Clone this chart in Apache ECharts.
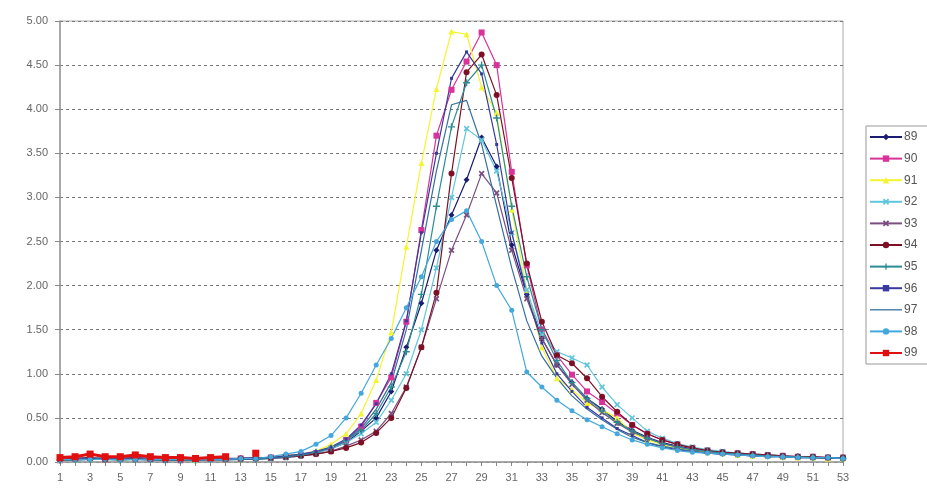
<!DOCTYPE html>
<html>
<head>
<meta charset="utf-8">
<script src="https://cdn.jsdelivr.net/npm/echarts@6/dist/echarts.min.js"></script>
<style>html,body{margin:0;padding:0;background:#fff;overflow:hidden;}#c{width:927px;height:494px;}</style>
</head>
<body>
<div id="c"></div>
<script>
const weeks = Array.from({length: 53}, (_, i) => String(i + 1));
const seriesNames = ['89','90','91','92','93','94','95','96','97','98','99'];

const s89 = [0.03,0.04,0.05,0.04,0.04,0.05,0.04,0.03,0.03,0.03,0.04,0.04,0.04,0.05,
  0.05,0.07,0.09,0.11,0.15,0.22,0.35,0.5,0.8,1.3,1.8,2.4,2.8,3.2,3.68,3.35,2.46,1.9,1.4,1.1,0.9,0.72,0.6,0.46,0.36,0.28,0.22,0.18,0.15,0.12,0.1,0.09,0.08,0.07,0.06,0.06,0.05,0.05,0.04];
const s90 = [0.02,0.03,0.04,0.03,0.03,0.04,0.03,0.03,0.02,0.03,0.03,0.03,0.04,0.04,
  0.05,0.06,0.08,0.1,0.15,0.25,0.4,0.67,0.96,1.59,2.63,3.7,4.22,4.54,4.87,4.5,3.29,2.23,1.5,1.21,0.99,0.8,0.68,0.55,0.42,0.32,0.25,0.2,0.16,0.13,0.11,0.1,0.09,0.08,0.07,0.06,0.06,0.05,0.05];
const s91 = [0.03,0.03,0.04,0.04,0.03,0.04,0.03,0.03,0.03,0.02,0.03,0.03,0.03,0.04,
  0.05,0.07,0.09,0.12,0.2,0.32,0.55,0.93,1.47,2.44,3.39,4.23,4.88,4.85,4.25,3.96,2.86,1.95,1.3,0.95,0.82,0.67,0.59,0.5,0.33,0.25,0.2,0.16,0.13,0.11,0.1,0.08,0.07,0.07,0.06,0.05,0.05,0.04,0.04];
const s92 = [0.02,0.02,0.03,0.03,0.02,0.03,0.02,0.02,0.02,0.02,0.02,0.03,0.03,0.03,
  0.04,0.05,0.07,0.1,0.15,0.22,0.32,0.45,0.7,1.0,1.5,2.2,3.0,3.78,3.65,3.3,2.6,1.95,1.45,1.25,1.18,1.1,0.85,0.65,0.5,0.35,0.27,0.21,0.17,0.14,0.12,0.1,0.09,0.08,0.07,0.06,0.06,0.05,0.05];
const s93 = [0.03,0.03,0.04,0.03,0.03,0.03,0.03,0.02,0.02,0.03,0.03,0.03,0.03,0.04,
  0.04,0.05,0.07,0.09,0.12,0.18,0.25,0.35,0.55,0.85,1.3,1.85,2.4,2.8,3.27,3.05,2.4,1.85,1.4,1.1,0.88,0.7,0.56,0.44,0.34,0.27,0.21,0.17,0.14,0.12,0.1,0.09,0.08,0.07,0.06,0.06,0.05,0.05,0.04];
const s94 = [0.03,0.04,0.04,0.03,0.04,0.04,0.03,0.03,0.03,0.03,0.04,0.03,0.04,0.04,
  0.05,0.06,0.07,0.09,0.12,0.16,0.22,0.33,0.5,0.84,1.3,1.92,3.27,4.42,4.62,4.16,3.22,2.25,1.59,1.21,1.12,0.95,0.74,0.57,0.42,0.32,0.25,0.2,0.16,0.13,0.11,0.1,0.09,0.08,0.07,0.06,0.06,0.05,0.05];
const s95 = [0.02,0.03,0.03,0.03,0.02,0.03,0.03,0.02,0.02,0.02,0.03,0.03,0.03,0.03,
  0.05,0.06,0.08,0.11,0.16,0.24,0.36,0.55,0.85,1.25,1.9,2.9,3.8,4.3,4.5,3.9,2.9,2.1,1.5,1.15,0.9,0.72,0.58,0.45,0.35,0.27,0.21,0.17,0.14,0.12,0.1,0.09,0.08,0.07,0.06,0.06,0.05,0.05,0.04];
const s96 = [0.03,0.03,0.04,0.04,0.03,0.03,0.03,0.03,0.03,0.03,0.03,0.03,0.04,0.04,
  0.05,0.07,0.09,0.12,0.17,0.26,0.42,0.66,1.0,1.6,2.6,3.5,4.35,4.65,4.4,3.6,2.6,1.9,1.35,1.0,0.8,0.62,0.5,0.38,0.3,0.22,0.17,0.14,0.12,0.1,0.09,0.08,0.07,0.06,0.06,0.05,0.05,0.04,0.04];
const s97 = [0.02,0.02,0.03,0.03,0.03,0.03,0.02,0.02,0.02,0.02,0.02,0.02,0.03,0.03,
  0.04,0.06,0.08,0.11,0.16,0.25,0.38,0.6,0.9,1.5,2.4,3.3,4.05,4.1,3.6,2.9,2.2,1.6,1.2,0.95,0.75,0.6,0.48,0.37,0.28,0.22,0.18,0.15,0.12,0.1,0.09,0.08,0.07,0.06,0.06,0.05,0.05,0.05,0.04];
const s98 = [0.03,0.03,0.03,0.03,0.03,0.03,0.03,0.03,0.03,0.03,0.03,0.03,0.04,0.04,
  0.06,0.09,0.12,0.2,0.3,0.5,0.78,1.1,1.4,1.75,2.1,2.5,2.75,2.85,2.5,2.0,1.72,1.02,0.85,0.7,0.58,0.48,0.4,0.32,0.25,0.2,0.16,0.13,0.11,0.1,0.09,0.08,0.07,0.06,0.06,0.05,0.05,0.05,0.04];
const s99 = [0.05,0.06,0.09,0.06,0.06,0.08,0.06,0.05,0.05,0.04,0.05,0.06,null,0.1];

const yTicks = ['0.00','0.50','1.00','1.50','2.00','2.50','3.00','3.50','4.00','4.50','5.00'];

const X_SHAPE = 'path://M0,2L2,0L5,3L8,0L10,2L7,5L10,8L8,10L5,7L2,10L0,8L3,5Z';
const PLUS = 'path://M4,0H6V4H10V6H6V10H4V6H0V4H4Z';
const LINE_ONLY = 'path://M0,4.4H30V5.6H0Z';

const styles = {
  '89': {color:'#1c1c72', symbol:'diamond', size:6},
  '90': {color:'#d8339a', symbol:'rect', size:6},
  '91': {color:'#f4f430', symbol:'triangle', size:6},
  '92': {color:'#5fc6dc', symbol:X_SHAPE, size:6},
  '93': {color:'#7a4f80', symbol:X_SHAPE, size:6},
  '94': {color:'#7d1024', symbol:'circle', size:6},
  '95': {color:'#2c8c94', symbol:PLUS, size:7},
  '96': {color:'#3a3a9e', symbol:'rect', size:3},
  '97': {color:'#33709e', symbol:'none', size:0},
  '98': {color:'#45a8dc', symbol:'circle', size:5},
  '99': {color:'#e01010', symbol:'rect', size:7}
};
const dataMap = {'89':s89,'90':s90,'91':s91,'92':s92,'93':s93,'94':s94,'95':s95,'96':s96,'97':s97,'98':s98,'99':s99};

const series = seriesNames.map(n => ({
  name: n,
  type: 'line',
  data: dataMap[n],
  symbol: styles[n].symbol,
  symbolSize: styles[n].size,
  showSymbol: styles[n].symbol !== 'none',
  connectNulls: false,
  lineStyle: {color: styles[n].color, width: n === '99' ? 3 : 1.2},
  itemStyle: {color: styles[n].color},
  z: n === '99' ? 5 : 2
}));

const legendData = seriesNames.map(n => n === '97' ? {name: n, icon: LINE_ONLY} : {name: n});

const chart = echarts.init(document.getElementById('c'));
chart.setOption({
  animation: false,
  backgroundColor: '#fff',
  grid: {left: 60, right: 84, top: 21, bottom: 32, show: true, borderColor: '#aaa', borderWidth: 1},
  xAxis: {
    type: 'category',
    data: weeks,
    boundaryGap: false,
    axisLine: {lineStyle: {color: '#999', width: 1.5}},
    axisTick: {show: true, interval: 0, length: 4, lineStyle: {color: '#888'}},
    axisLabel: {interval: 1, color: '#666', fontSize: 11, fontFamily: 'Liberation Sans, Arial', margin: 10},
    splitLine: {show: false}
  },
  yAxis: {
    type: 'value',
    min: 0, max: 5, interval: 0.5,
    axisLine: {show: true, lineStyle: {color: '#999', width: 1.5}},
    axisTick: {show: true, length: 5, lineStyle: {color: '#888'}},
    axisLabel: {color: '#666', fontSize: 11, fontFamily: 'Liberation Sans, Arial', margin: 12,
      formatter: v => yTicks[Math.round(v / 0.5)]},
    splitLine: {show: true, lineStyle: {color: '#777', type: [3, 3], width: 1}}
  },
  legend: {
    orient: 'vertical',
    left: 866, top: 126,
    itemWidth: 32, itemHeight: 8, itemGap: 9.6,
    padding: [5, 30, 5, 3],
    borderColor: '#999', borderWidth: 1,
    textStyle: {color: '#555', fontSize: 12, fontFamily: 'Liberation Sans, Arial', padding: [0,0,0,-3]},
    data: legendData
  },
  series: series
});
</script>
</body>
</html>
